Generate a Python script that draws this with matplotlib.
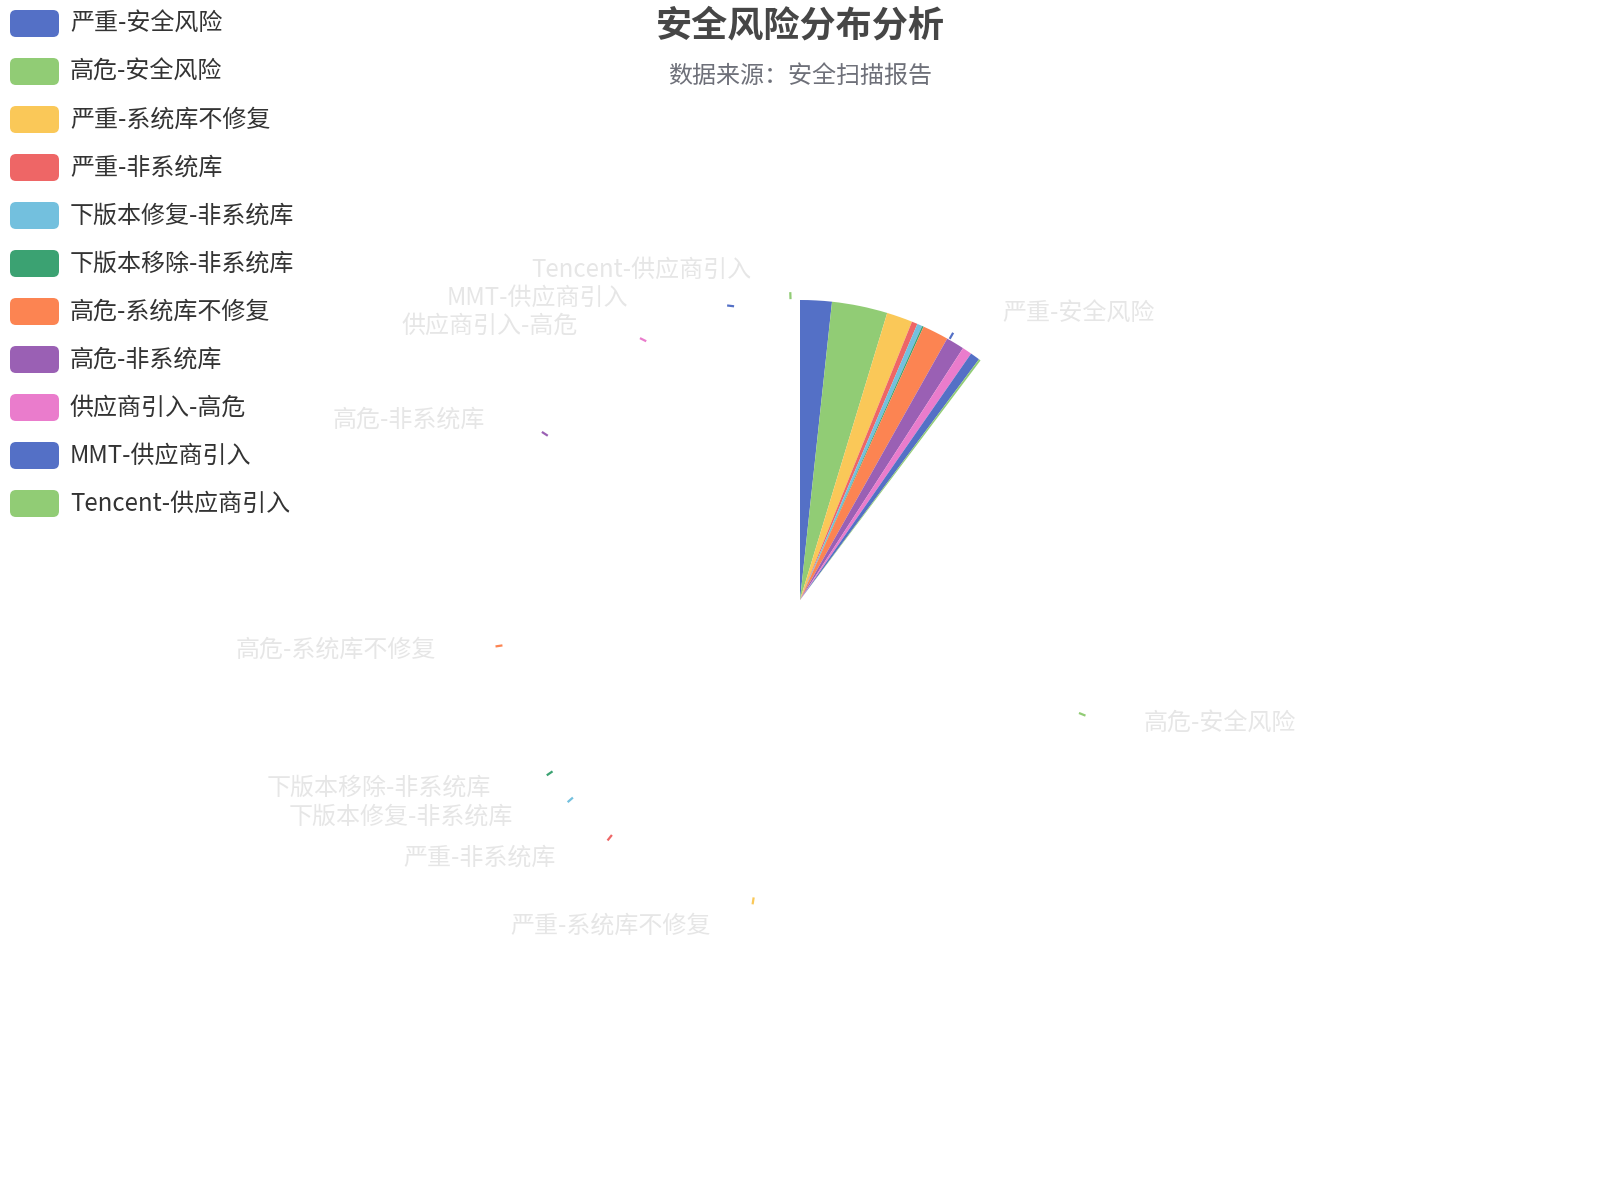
import numpy as np
import matplotlib
matplotlib.use("Agg")
import matplotlib.pyplot as plt
from matplotlib.patches import Wedge, FancyBboxPatch

plt.rcParams['font.family'] = ['Noto Sans CJK SC', 'DejaVu Sans']

# data
categories = ['严重-安全风险', '高危-安全风险', '严重-系统库不修复', '严重-非系统库',
              '下版本修复-非系统库', '下版本移除-非系统库', '高危-系统库不修复',
              '高危-非系统库', '供应商引入-高危', 'MMT-供应商引入', 'Tencent-供应商引入']
counts = [165, 290, 135, 30, 27, 8, 136, 95, 50, 50, 10]
colors = ['#5470c6', '#91cc75', '#fac858', '#ee6666', '#73c0de', '#3ba272',
          '#fc8452', '#9a60b4', '#ea7ccc', '#5470c6', '#91cc75']
title = '安全风险分布分析'
subtitle = '数据来源：安全扫描报告'

# the picture is a frame of the opening animation: only part of the sweep drawn
progress = 37.0 / 360.0

W, H = 1600, 1200
cx, cy, radius = 800, 600, 300

fig = plt.figure(figsize=(16, 12), dpi=100)
ax = fig.add_axes([0, 0, 1, 1])
ax.set_xlim(0, W)
ax.set_ylim(H, 0)
ax.axis('off')

vals = np.array(counts, dtype=float)
share = vals / vals.sum()
ends = np.cumsum(share) * 360.0
starts = ends - share * 360.0
mids = (starts + ends) / 2.0

# wedges, clockwise from 12 o'clock (y axis is flipped so theta = compass - 90)
for s, e, c in zip(starts, ends, colors):
    a0 = s * progress
    a1 = e * progress
    ax.add_patch(Wedge((cx, cy), radius, a0 - 90, a1 - 90, facecolor=c,
                       edgecolor='none', antialiased=True))

# label layout: final mid angles, pushed apart per side
label_r = 330
gap = 38
min_step = 28
right, left = [], []
for i, m in enumerate(mids):
    t = np.radians(m)
    y = cy - label_r * np.cos(t)
    if np.sin(t) >= 0:
        right.append([y, i])
    else:
        left.append([y, i])

anchors = {}
for side, sign in ((right, 1), (left, -1)):
    side.sort()
    for k in range(1, len(side)):
        if side[k][0] - side[k - 1][0] < min_step:
            side[k][0] = side[k - 1][0] + min_step
    for y, i in side:
        dy = min(abs(y - cy), label_r)
        x = cx + sign * np.sqrt(label_r ** 2 - dy ** 2)
        anchors[i] = (x, y, sign)

# short label line stubs (start of the line toward the label anchor)
for i, (m, c) in enumerate(zip(mids, colors)):
    t = np.radians(m)
    px = cx + (radius + 1) * np.sin(t)
    py = cy - (radius + 1) * np.cos(t)
    ax_, ay_, _ = anchors[i]
    d = np.hypot(ax_ - px, ay_ - py)
    ux, uy = (ax_ - px) / d, (ay_ - py) / d
    ax.plot([px, px + 7 * ux], [py, py + 7 * uy],
            color=c, lw=1.6, solid_capstyle='butt')

# faded label texts
for i, (x, y, sign) in anchors.items():
    ax.text(x + sign * gap, y, categories[i], fontsize=17.3,
            color='#333333', alpha=0.12,
            ha='left' if sign > 0 else 'right', va='center')

# legend (top left)
for i, (name, c) in enumerate(zip(categories, colors)):
    yc = 23.5 + 48 * i
    ax.add_patch(FancyBboxPatch((10, yc - 13.5), 49, 27,
                                boxstyle='round,pad=0,rounding_size=6',
                                facecolor=c, edgecolor='none'))
    ax.text(70, yc, name, fontsize=17.3, color='#333333', va='center', ha='left')

# title + subtitle
ax.text(W / 2, 26, title, fontsize=26, fontweight='bold', color='#464646',
        ha='center', va='center')
ax.text(W / 2, 76, subtitle, fontsize=17.3, color='#6e7079',
        ha='center', va='center')

fig.savefig('out.png', dpi=100, facecolor='white')
